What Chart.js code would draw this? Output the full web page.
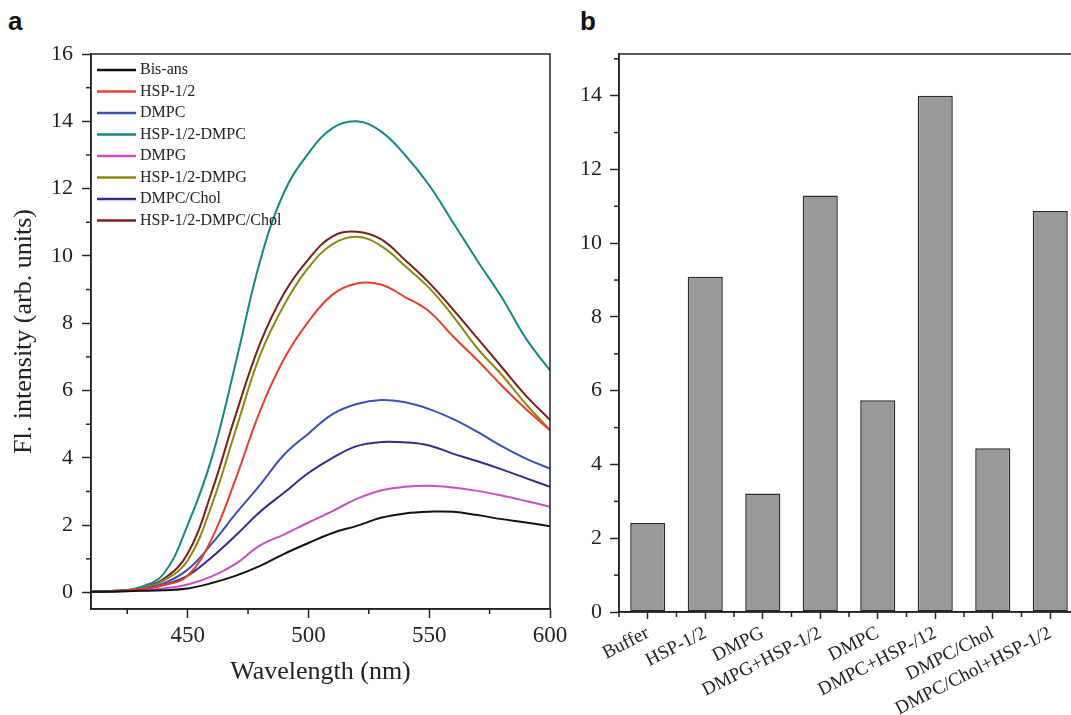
<!DOCTYPE html>
<html>
<head>
<meta charset="utf-8">
<script src="https://cdn.jsdelivr.net/npm/chart.js@4.4.1/dist/chart.umd.min.js"></script>
<style>
  html, body { margin: 0; padding: 0; background: #fff; overflow: hidden; }
  body { width: 1071px; height: 715px; position: relative; }
  .panel { position: absolute; font-family: "Liberation Sans", Arial, sans-serif;
           font-weight: bold; font-size: 26px; line-height: 1; color: #111; }
  #wrapA { position: absolute; left: 0; top: 0; width: 575px; height: 715px; }
  #wrapB { position: absolute; left: 575px; top: 0; width: 510px; height: 715px; }
</style>
</head>
<body>
<div class="panel" style="left:8px;top:8px">a</div>
<div class="panel" style="left:580px;top:8px">b</div>
<div id="wrapA"><canvas id="spectra"></canvas></div>
<div id="wrapB"><canvas id="bars"></canvas></div>
<script>
/* ---- data : panel a (emission spectra) ---------------------------- */
const wavelengths = [410, 420, 430, 440, 450, 460, 470, 480, 490, 500,
                     510, 520, 530, 540, 550, 560, 570, 580, 590, 600];

const bisAns      = [0.02, 0.03, 0.05, 0.07, 0.12, 0.28, 0.50, 0.79, 1.15, 1.47,
                     1.77, 1.98, 2.22, 2.35, 2.40, 2.40, 2.30, 2.18, 2.08, 1.97];
const hsp         = [0.02, 0.04, 0.10, 0.22, 0.50, 1.60, 3.40, 5.40, 6.95, 8.05,
                     8.85, 9.18, 9.15, 8.78, 8.35, 7.60, 6.90, 6.15, 5.45, 4.82];
const dmpc        = [0.02, 0.04, 0.10, 0.27, 0.68, 1.45, 2.35, 3.20, 4.10, 4.72,
                     5.30, 5.60, 5.72, 5.65, 5.45, 5.15, 4.77, 4.35, 3.98, 3.68];
const hspDmpc     = [0.02, 0.05, 0.15, 0.55, 2.00, 4.00, 6.85, 9.85, 11.9, 13.05,
                     13.8, 14.0, 13.7, 13.0, 12.1, 10.98, 9.85, 8.77, 7.55, 6.60];
const dmpg        = [0.02, 0.03, 0.06, 0.12, 0.24, 0.48, 0.86, 1.40, 1.73, 2.08,
                     2.42, 2.78, 3.03, 3.14, 3.17, 3.12, 3.02, 2.88, 2.72, 2.55];
const hspDmpg     = [0.02, 0.05, 0.12, 0.35, 0.95, 2.60, 4.85, 7.05, 8.55, 9.65,
                     10.35, 10.57, 10.3, 9.70, 9.05, 8.20, 7.25, 6.47, 5.60, 4.83];
const dmpcChol    = [0.02, 0.04, 0.08, 0.22, 0.50, 1.05, 1.70, 2.40, 2.97, 3.55,
                     4.00, 4.35, 4.47, 4.46, 4.37, 4.12, 3.90, 3.66, 3.40, 3.14];
const hspDmpcChol = [0.02, 0.05, 0.13, 0.40, 1.15, 3.00, 5.30, 7.40, 8.90, 9.90,
                     10.58, 10.72, 10.5, 9.88, 9.20, 8.40, 7.55, 6.70, 5.85, 5.13];

const seriesNames  = ['Bis-ans', 'HSP-1/2', 'DMPC', 'HSP-1/2-DMPC',
                      'DMPG', 'HSP-1/2-DMPG', 'DMPC/Chol', 'HSP-1/2-DMPC/Chol'];
const seriesValues = [bisAns, hsp, dmpc, hspDmpc, dmpg, hspDmpg, dmpcChol, hspDmpcChol];
const seriesColors = ['#111111', '#e8402e', '#3a52b4', '#11898a',
                      '#c84fc4', '#8c8a0a', '#362a8e', '#7f1c1c'];

const spectraMinorX = [425, 475, 525, 575];
const spectraMinorY = [1, 3, 5, 7, 9, 11, 13, 15];

/* ---- data : panel b (peak intensities) ---------------------------- */
const barLabels = ['Buffer', 'HSP-1/2', 'DMPG', 'DMPG+HSP-1/2',
                   'DMPC', 'DMPC+HSP-/12', 'DMPC/Chol', 'DMPC/Chol+HSP-1/2'];
const barValues = [2.41, 9.09, 3.21, 11.29, 5.74, 14.0, 4.44, 10.87];

const barMinorX = [-0.5, 0.5, 1.5, 2.5, 3.5, 4.5, 5.5, 6.5, 7.5];
const barMinorY = [1, 3, 5, 7, 9, 11, 13, 15];

/* ---- shared bits --------------------------------------------------- */
const SERIF = '"Liberation Serif", "Times New Roman", serif';
const INK = '#222';

// short unlabeled ticks between the major ones
const minorTicks = {
  id: 'minorTicks',
  afterDraw(chart, args, opts) {
    const ctx = chart.ctx;
    ctx.save();
    ctx.strokeStyle = INK;
    ctx.lineWidth = 1.5;
    for (const [id, values] of Object.entries(opts.scales || {})) {
      const s = chart.scales[id];
      values.forEach(v => {
        const p = s.getPixelForValue(v);
        ctx.beginPath();
        if (s.isHorizontal()) { ctx.moveTo(p, s.top); ctx.lineTo(p, s.top + opts.length); }
        else { ctx.moveTo(s.right, p); ctx.lineTo(s.right - opts.length, p); }
        ctx.stroke();
      });
    }
    ctx.restore();
  }
};

// closed frame around the plot area
const frame = {
  id: 'frame',
  afterDatasetsDraw(chart) {
    const {ctx, chartArea: a} = chart;
    ctx.save();
    ctx.strokeStyle = INK;
    ctx.lineWidth = 1.5;
    ctx.strokeRect(a.left, a.top, a.right - a.left, a.bottom - a.top);
    ctx.restore();
  }
};

// legend sitting in the upper-left corner of the plot area
const insideLegend = {
  id: 'insideLegend',
  afterDatasetsDraw(chart, args, o) {
    if (!o.show) return;
    const {ctx, chartArea: a} = chart;
    ctx.save();
    ctx.font = `${o.size}px ${SERIF}`;
    ctx.textBaseline = 'middle';
    chart.data.datasets.forEach((ds, i) => {
      const y = a.top + o.top + i * o.step;
      const x0 = a.left + o.left;
      ctx.strokeStyle = ds.borderColor;
      ctx.lineWidth = 2.5;
      ctx.beginPath();
      ctx.moveTo(x0, y);
      ctx.lineTo(x0 + o.line, y);
      ctx.stroke();
      ctx.fillStyle = INK;
      ctx.fillText(ds.label, x0 + o.line + o.gap, y);
    });
    ctx.restore();
  }
};

const axisStyle = (fontSize) => ({
  border: { color: INK, width: 1.5 },
  grid: { drawOnChartArea: false, drawTicks: true, tickLength: 9, tickColor: INK, tickWidth: 1.5 },
  ticks: { color: INK, font: { family: SERIF, size: fontSize } }
});

/* ---- panel a ------------------------------------------------------- */
const ax = axisStyle(23), ay = axisStyle(22);
new Chart(document.getElementById('spectra'), {
  type: 'line',
  data: {
    datasets: seriesNames.map((name, i) => ({
      label: name,
      data: wavelengths.map((w, k) => ({ x: w, y: seriesValues[i][k] })),
      borderColor: seriesColors[i],
      backgroundColor: seriesColors[i],
      borderWidth: 2,
      pointRadius: 0,
      tension: 0.4
    }))
  },
  options: {
    responsive: true,
    maintainAspectRatio: false,
    animation: false,
    layout: { padding: { top: 54, right: 25, left: 0, bottom: 0 } },
    plugins: {
      legend: { display: false },
      tooltip: { enabled: false },
      insideLegend: { show: true, top: 16, step: 21.5, left: 6, line: 39, gap: 4, size: 16 },
      minorTicks: { length: 5, scales: { x: spectraMinorX, y: spectraMinorY } }
    },
    scales: {
      x: {
        type: 'linear',
        min: 410, max: 600,
        ...ax,
        ticks: { ...ax.ticks, stepSize: 50, padding: 4, maxRotation: 0, includeBounds: false },
        title: { display: true, text: 'Wavelength (nm)', color: INK,
                 font: { family: SERIF, size: 26 }, padding: { top: 0, bottom: 27 } },
        afterFit: s => { s.height = 106; }
      },
      y: {
        min: -0.49, max: 16,
        ...ay,
        ticks: { ...ay.ticks, stepSize: 2, padding: 9, includeBounds: false },
        title: { display: true, text: 'Fl. intensity (arb. units)', color: INK,
                 font: { family: SERIF, size: 26 }, padding: { top: 9, bottom: 0 } },
        afterFit: s => { s.width = 91; }
      }
    }
  },
  plugins: [minorTicks, frame, insideLegend]
});

/* ---- panel b ------------------------------------------------------- */
const bx = axisStyle(19), by = axisStyle(22);
new Chart(document.getElementById('bars'), {
  type: 'bar',
  data: {
    labels: barLabels,
    datasets: [{
      data: barValues,
      backgroundColor: '#999999',
      borderColor: '#2a2a2a',
      borderWidth: 1.5,
      borderSkipped: false,
      barPercentage: 0.61,
      categoryPercentage: 1
    }]
  },
  options: {
    responsive: true,
    maintainAspectRatio: false,
    animation: false,
    layout: { padding: { top: 54, right: 6, left: 0, bottom: 0 } },
    plugins: {
      legend: { display: false },
      tooltip: { enabled: false },
      minorTicks: { length: 5, scales: { x: barMinorX, y: barMinorY } }
    },
    scales: {
      x: {
        offset: true,
        ...bx,
        grid: { ...bx.grid, offset: false, tickLength: 7 },
        ticks: { ...bx.ticks, minRotation: 27, maxRotation: 27, padding: 3, autoSkip: false },
        afterFit: s => { s.height = 103; }
      },
      y: {
        min: 0, max: 15.13,
        ...by,
        ticks: { ...by.ticks, stepSize: 2, padding: 8, includeBounds: false },
        afterFit: s => { s.width = 44; }
      }
    }
  },
  plugins: [minorTicks, frame]
});
</script>
</body>
</html>
